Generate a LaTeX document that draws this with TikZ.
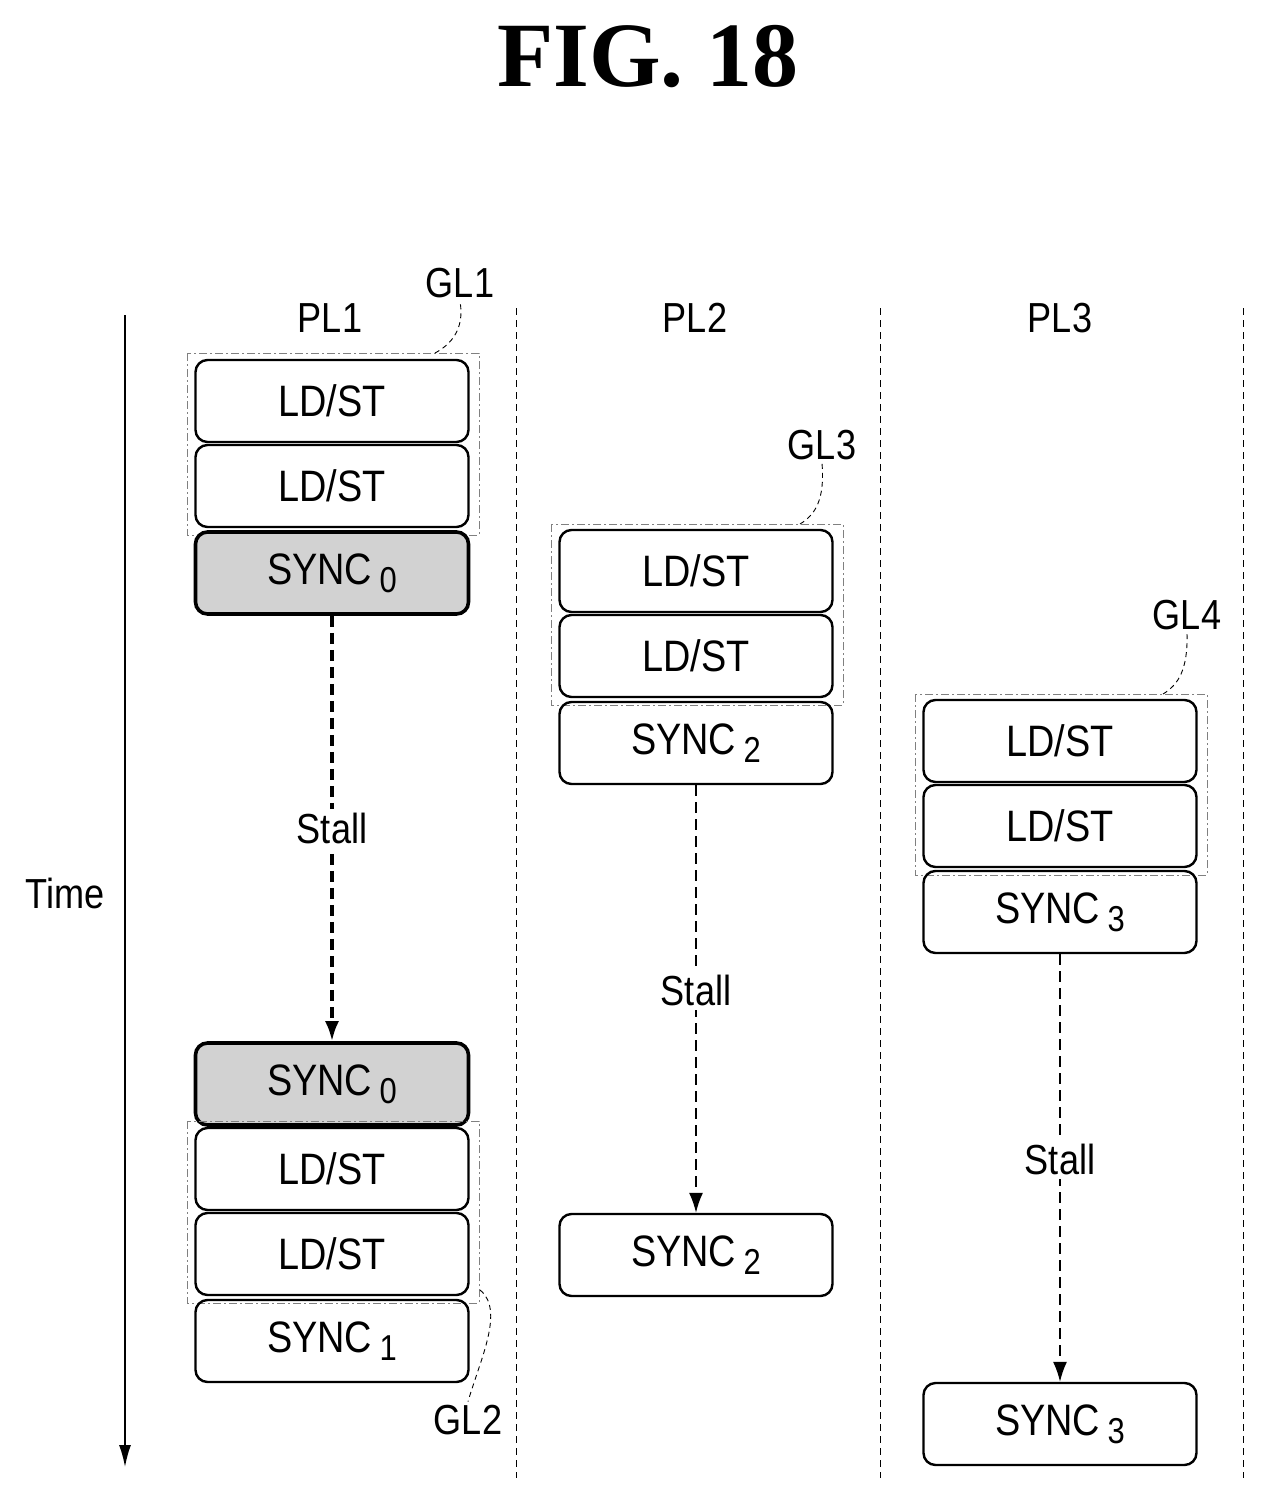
\documentclass[tikz,border=0pt]{standalone}
\usepackage{fontspec}
\setmainfont{Liberation Sans}[FakeStretch=0.86]
\newfontfamily\titlefont{Liberation Serif}
\usetikzlibrary{arrows.meta,decorations.pathmorphing}
\newcommand{\sub}[1]{\,\raisebox{-0.35ex}{\fontsize{36}{36}\selectfont #1}}
\begin{document}
\begin{tikzpicture}[x=1pt,y=-1pt,
 box/.style={draw,line width=2.4pt,rounded corners=12pt,minimum width=273pt,minimum height=82pt,font=\fontsize{44}{44}\selectfont,inner sep=0},
 gbox/.style={box,line width=3.6pt,fill=gray!35},
 grp/.style={draw,dash pattern=on 8pt off 3pt on 2pt off 3pt,line width=0.9pt,gray},
 sep/.style={dash pattern=on 7pt off 5pt,line width=1pt},
 stall/.style={dash pattern=on 11pt off 6pt,line width=1.6pt,-{Latex[length=20pt,width=14pt]}},
 lab/.style={font=\fontsize{42}{42}\selectfont},
 lead/.style={dash pattern=on 5pt off 4pt,line width=0.9pt}]
\useasboundingbox (0,0) rectangle (1265,1499);
\node[font=\titlefont\bfseries\fontsize{92}{92}\selectfont] (title) at (648,57) {FIG. 18};
% time axis
\coordinate (t0) at (125,315); \coordinate (t1) at (125,1467);
\draw[line width=1.6pt,-{Latex[length=22pt,width=12pt]}] (t0) -- (t1);
\node[lab] (time) at (65,893) {Time};
% separators
\foreach \x/\n in {516/a,880/b,1243/c}{\coordinate (s\n0) at (\x,308); \coordinate (s\n1) at (\x,1478); \draw[sep] (s\n0)--(s\n1);}
\node[lab] (pl1) at (330,318) {PL1};
\node[lab] (pl2) at (695,318) {PL2};
\node[lab] (pl3) at (1060,318) {PL3};
% PL1
\draw[grp] (187,353) rectangle (479,535);
\node[box] (a1) at (332,401) {LD/ST};
\node[box] (a2) at (332,486) {LD/ST};
\node[gbox] (a3) at (332,573) {SYNC\sub{0}};
\node[gbox] (a4) at (332,1084) {SYNC\sub{0}};
\draw[grp] (187,1121) rectangle (479,1303);
\node[box] (a5) at (332,1169) {LD/ST};
\node[box] (a6) at (332,1254) {LD/ST};
\node[box] (a7) at (332,1341) {SYNC\sub{1}};
\draw[stall,line width=3.4pt] (a3) -- node[lab,fill=white,inner sep=4pt] (st1) {Stall} (a4);
% PL2
\draw[grp] (551,524) rectangle (843,705);
\node[box] (b1) at (696,571) {LD/ST};
\node[box] (b2) at (696,656) {LD/ST};
\node[box] (b3) at (696,743) {SYNC\sub{2}};
\node[box] (b4) at (696,1255) {SYNC\sub{2}};
\draw[stall] (b3) -- node[lab,fill=white,inner sep=4pt,pos=0.48] (st2) {Stall} (b4);
% PL3
\draw[grp] (915,694) rectangle (1207,875);
\node[box] (c1) at (1060,741) {LD/ST};
\node[box] (c2) at (1060,826) {LD/ST};
\node[box] (c3) at (1060,912) {SYNC\sub{3}};
\node[box] (c4) at (1060,1424) {SYNC\sub{3}};
\draw[stall] (c3) -- node[lab,fill=white,inner sep=4pt,pos=0.48] (st3) {Stall} (c4);
% group labels
\node[lab] (gl1) at (460,283) {GL1};
\node[lab] (gl3) at (822,445) {GL3};
\node[lab] (gl4) at (1187,615) {GL4};
\node[lab] (gl2) at (468,1420) {GL2};
\draw[lead] (435,353) .. controls (450,345) and (465,330) .. (gl1.south);
\draw[lead] (800,524) .. controls (815,515) and (825,500) .. (gl3.south);
\draw[lead] (1163,694) .. controls (1178,685) and (1188,670) .. (gl4.south);
\draw[lead] (480,1290) .. controls (505,1310) and (480,1360) .. (gl2.north);
\end{tikzpicture}
\end{document}
